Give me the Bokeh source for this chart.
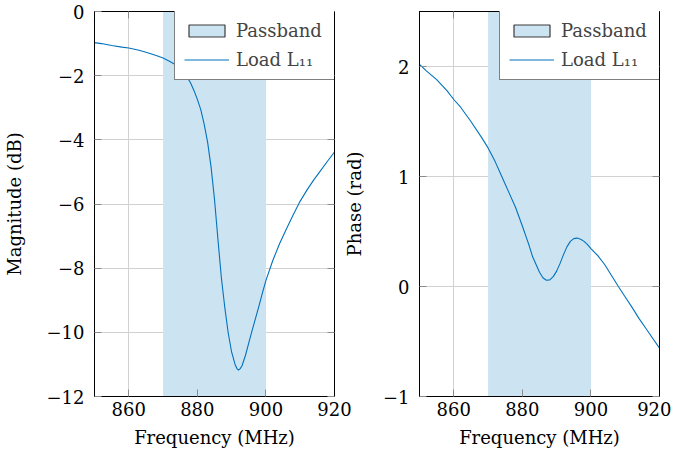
from bokeh.plotting import figure
from bokeh.layouts import row
from bokeh.models import FixedTicker, LinearAxis, Range1d, Legend, LegendItem
from bokeh.embed import file_html
from bokeh.resources import INLINE

# ---------------- data ----------------
freq_mag = [850, 852, 855, 858, 860, 863, 865, 868, 870, 872, 874, 875, 876, 877,
            878, 879, 880, 881, 882, 883, 884, 885, 886, 887, 888, 889, 890, 891,
            891.5, 892, 892.5, 893, 894, 895, 896, 897, 898, 899, 900, 902, 904,
            906, 908, 910, 912, 914, 916, 918, 920]
mag_db = [-0.97, -1.00, -1.06, -1.11, -1.14, -1.21, -1.27, -1.37, -1.45, -1.56,
          -1.68, -1.77, -1.89, -2.04, -2.22, -2.46, -2.74, -3.06, -3.52, -4.08,
          -4.85, -5.85, -7.10, -8.30, -9.22, -10.02, -10.62, -11.00, -11.12,
          -11.18, -11.13, -11.05, -10.73, -10.33, -9.93, -9.55, -9.17, -8.76,
          -8.38, -7.76, -7.23, -6.77, -6.33, -5.91, -5.56, -5.24, -4.95, -4.66,
          -4.38]

freq_ph = [850, 852, 855, 858, 860, 862, 865, 868, 870, 872, 874, 876, 878, 880,
           881, 882, 883, 884, 885, 886, 887, 888, 889, 890, 891, 892, 893, 894,
           895, 896, 897, 898, 899, 900, 902, 904, 906, 908, 910, 912, 914, 916,
           918, 920]
phase_rad = [2.02, 1.96, 1.88, 1.78, 1.70, 1.63, 1.50, 1.36, 1.26, 1.14, 1.00,
             0.86, 0.72, 0.55, 0.46, 0.37, 0.27, 0.20, 0.13, 0.08, 0.057, 0.06,
             0.09, 0.14, 0.21, 0.29, 0.36, 0.41, 0.435, 0.44, 0.43, 0.41, 0.38,
             0.345, 0.28, 0.20, 0.10, 0.00, -0.095, -0.19, -0.29, -0.38, -0.47,
             -0.56]

passband = [870, 900]
x_limits = [850, 920]
mag_limits = [-12, 0]
phase_limits = [-1, 2.5]
x_ticks = [860, 880, 900, 920]
mag_ticks = [-12, -10, -8, -6, -4, -2, 0]
phase_ticks = [-1, 0, 1, 2]

x_label = "Frequency (MHz)"
mag_label = "Magnitude (dB)"
phase_label = "Phase (rad)"
legend_labels = ["Passband", "Load L\u2081\u2081"]

# ---------------- style ----------------
FONT = "DejaVu Serif"
FS = "18px"
BLUE = "#0072bd"
BAND = "#cce3f2"
GRID = "#d2d2d2"
TICK = "#8c8c8c"
H = 452
TOP = 11
FRAME_H = 385
FRAME_W = 245
LEG_W, LEG_H = 160, 68


def fmt(ticks):
    return {t: (("\u2212" + str(abs(t))) if t < 0 else str(t)) for t in ticks}


def panel(freqs, vals, y_limits, y_ticks, y_label, width, border_left,
          border_right, label_standoff):
    p = figure(width=width, height=H, output_backend="svg",
               toolbar_location=None,
               x_range=Range1d(*x_limits), y_range=Range1d(*y_limits),
               min_border_left=border_left, min_border_right=border_right,
               min_border_top=TOP, min_border_bottom=H - TOP - FRAME_H)
    p.outline_line_color = "black"
    p.outline_line_width = 1
    p.background_fill_color = "white"

    for ax, ticks in ((p.xaxis[0], x_ticks), (p.yaxis[0], y_ticks)):
        ax.ticker = FixedTicker(ticks=ticks)
        ax.major_label_overrides = fmt(ticks)
        ax.major_label_text_font = FONT
        ax.major_label_text_font_size = FS
        ax.major_label_text_color = "black"
        ax.axis_label_text_font = FONT
        ax.axis_label_text_font_size = FS
        ax.axis_label_text_font_style = "normal"
        ax.axis_label_text_color = "black"
        ax.axis_line_color = "black"
        ax.major_tick_in = 7
        ax.major_tick_out = 0
        ax.major_tick_line_color = TICK
        ax.minor_tick_line_color = None
    p.xaxis[0].axis_label = x_label
    p.xaxis[0].major_label_standoff = 5
    p.xaxis[0].axis_label_standoff = 8
    p.yaxis[0].axis_label = y_label
    p.yaxis[0].major_label_standoff = 10
    p.yaxis[0].axis_label_standoff = label_standoff

    for loc, ticks in (("right", y_ticks), ("above", x_ticks)):
        ax = LinearAxis(ticker=FixedTicker(ticks=ticks),
                        major_label_text_font_size="1px",
                        major_label_text_color=None,
                        major_label_standoff=0, major_tick_in=7,
                        major_tick_out=0, major_tick_line_color=TICK,
                        minor_tick_line_color=None, axis_line_color="black")
        p.add_layout(ax, loc)

    p.xgrid.ticker = FixedTicker(ticks=x_ticks)
    p.ygrid.ticker = FixedTicker(ticks=y_ticks)
    p.grid.grid_line_color = GRID
    p.grid.grid_line_width = 1

    p.quad(left=[passband[0]], right=[passband[1]],
           bottom=[y_limits[0]], top=[y_limits[1]],
           fill_color=BAND, line_color=None)
    # zero-size twin of the band, used only for the framed legend swatch
    key = p.quad(left=[passband[0]], right=[passband[0]],
                 bottom=[y_limits[0]], top=[y_limits[0]],
                 fill_color=BAND, line_color="#3a3a3a", line_width=1.2)
    ln = p.line(freqs, vals, line_color=BLUE, line_width=1.1)

    legend = Legend(items=[LegendItem(label=legend_labels[0], renderers=[key]),
                           LegendItem(label=legend_labels[1], renderers=[ln])],
                    location=(FRAME_W - 5 - LEG_W, FRAME_H - 1 - LEG_H),
                    margin=0, padding=9, spacing=8,
                    glyph_width=45, glyph_height=15, label_standoff=7,
                    label_height=21, label_width=90,
                    label_text_font=FONT, label_text_font_size=FS,
                    border_line_color="black", border_line_width=1,
                    background_fill_color="white", background_fill_alpha=1)
    p.add_layout(legend)
    return p


p1 = panel(freq_mag, mag_db, mag_limits, mag_ticks, mag_label,
           width=360, border_left=89, border_right=26, label_standoff=19)
p2 = panel(freq_ph, phase_rad, phase_limits, phase_ticks, phase_label,
           width=331, border_left=74, border_right=12, label_standoff=15)
p2.border_fill_alpha = 0
p2.margin = (0, 0, 0, -20)

layout = row(p1, p2)
open("out.html", "w").write(file_html(layout, INLINE))
